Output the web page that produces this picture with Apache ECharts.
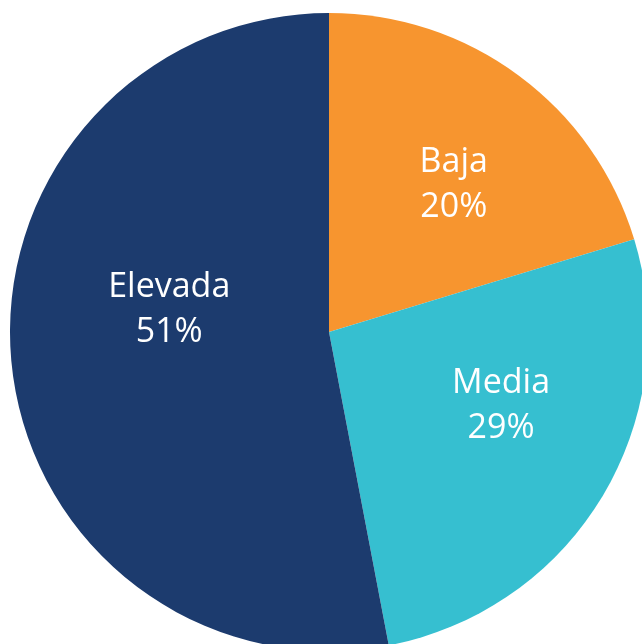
<!DOCTYPE html>
<html>
<head>
<meta charset="utf-8">
<script src="https://cdn.jsdelivr.net/npm/echarts@6/dist/echarts.min.js"></script>
<style>
  html, body { margin: 0; padding: 0; background: #fff; }
  #chart { width: 642px; height: 644px; }
</style>
</head>
<body>
<div id="chart"></div>
<script>
// categorías y valores (ángulos, etiquetas tal cual aparecen)
const categories = ['Baja', 'Media', 'Elevada'];
const shares = [20.3, 26.7, 53.0];
const pctLabels = ['20%', '29%', '51%'];
const colors = ['#F7952F', '#36BFD0', '#1C3B6E'];
// desplazamiento de cada etiqueta respecto a su posición "inside"
const labelOffsets = [[28, -17], [33, -10], [2, -37]];

const chart = echarts.init(document.getElementById('chart'));
chart.setOption({
  animation: false,
  series: [{
    type: 'pie',
    center: [329, 332],
    radius: 319,
    startAngle: 90,
    clockwise: true,
    silent: true,
    itemStyle: { borderWidth: 0 },
    label: {
      show: true,
      position: 'inside',
      color: '#fff',
      fontFamily: 'Open Sans',
      fontSize: 34,
      lineHeight: 45,
      align: 'center',
      formatter: p => p.name + '\n' + pctLabels[p.dataIndex]
    },
    labelLine: { show: false },
    data: categories.map((name, i) => ({
      name,
      value: shares[i],
      itemStyle: { color: colors[i] },
      label: { offset: labelOffsets[i] }
    }))
  }]
});
</script>
</body>
</html>
